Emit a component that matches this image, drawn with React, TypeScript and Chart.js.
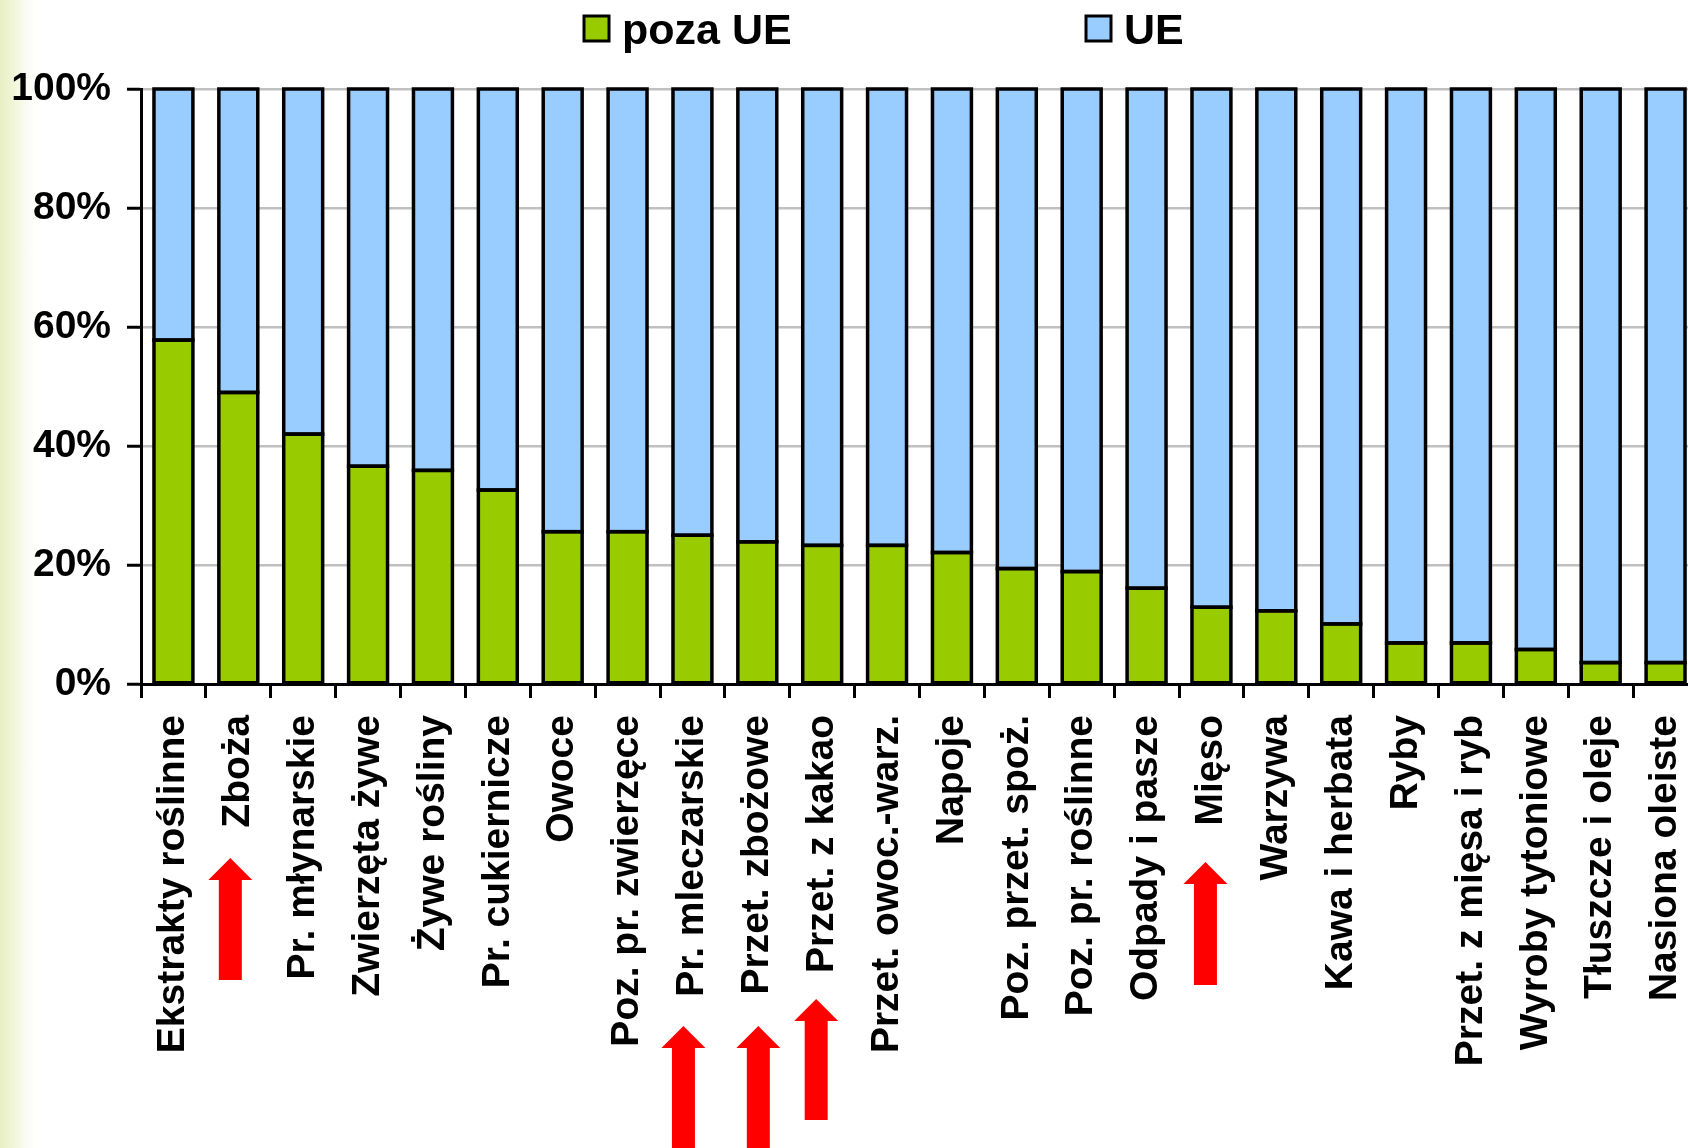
import { useEffect, useRef } from 'react';
import { Chart, registerables } from 'chart.js';

Chart.register(...registerables);

// Product groups, in the order the bars are drawn
const categories = [
  'Ekstrakty roślinne',
  'Zboża',
  'Pr. młynarskie',
  'Zwierzęta żywe',
  'Żywe rośliny',
  'Pr. cukiernicze',
  'Owoce',
  'Poz. pr. zwierzęce',
  'Pr. mleczarskie',
  'Przet. zbożowe',
  'Przet. z kakao',
  'Przet. owoc.-warz.',
  'Napoje',
  'Poz. przet. spoż.',
  'Poz. pr. roślinne',
  'Odpady i pasze',
  'Mięso',
  'Warzywa',
  'Kawa i herbata',
  'Ryby',
  'Przet. z mięsa i ryb',
  'Wyroby tytoniowe',
  'Tłuszcze i oleje',
  'Nasiona oleiste',
];

// Share of exports going outside the EU (%)
const pozaUE = [
  57.8, 49.0, 42.0, 36.6, 35.9, 32.6, 25.6, 25.6, 25.0, 23.9, 23.3, 23.3,
  22.1, 19.4, 18.9, 16.1, 12.9, 12.3, 10.1, 6.9, 6.9, 5.8, 3.6, 3.6,
];

// Share of exports going to the EU (%)
const UE = [
  42.2, 51.0, 58.0, 63.4, 64.1, 67.4, 74.4, 74.4, 75.0, 76.1, 76.7, 76.7,
  77.9, 80.6, 81.1, 83.9, 87.1, 87.7, 89.9, 93.1, 93.1, 94.2, 96.4, 96.4,
];

const yTickValues = [0, 20, 40, 60, 80, 100];

// Groups marked with a red arrow below their label
const arrowGroups = ['Zboża', 'Pr. mleczarskie', 'Przet. zbożowe', 'Przet. z kakao', 'Mięso'];

const FONT = '"Liberation Sans", Arial, Helvetica, sans-serif';
const GREEN = '#99CC00';
const BLUE = '#99CCFF';
const OUTLINE = 3.5;

// Arrow placement: horizontal nudge from the category centre, tip and tail heights
const arrowLayout: Record<string, { dx: number; tip: number; tail: number }> = {
  'Zboża': { dx: -8, tip: 858, tail: 980 },
  'Pr. mleczarskie': { dx: -9, tip: 1026, tail: 1160 },
  'Przet. zbożowe': { dx: 1, tip: 1026, tail: 1160 },
  'Przet. z kakao': { dx: -6, tip: 999, tail: 1120 },
  'Mięso': { dx: -6, tip: 862, tail: 985 },
};

// Black outline stroked along every bar segment edge (shared edges stay single)
const outlinePlugin = {
  id: 'barOutlines',
  afterDatasetsDraw(chart: any) {
    const { ctx } = chart;
    ctx.save();
    ctx.strokeStyle = '#000';
    ctx.lineWidth = OUTLINE;
    ctx.lineJoin = 'miter';
    chart.data.datasets.forEach((_: any, di: number) => {
      const meta = chart.getDatasetMeta(di);
      meta.data.forEach((bar: any) => {
        const { x, y, base, width } = bar.getProps(['x', 'y', 'base', 'width'], true);
        ctx.strokeRect(x - width / 2, Math.min(y, base), width, Math.abs(base - y));
      });
    });
    ctx.restore();
  },
};

const arrowPlugin = {
  id: 'redArrows',
  afterDraw(chart: any) {
    const { ctx } = chart;
    const xScale = chart.scales.x;
    ctx.save();
    ctx.fillStyle = '#FF0000';
    arrowGroups.forEach((name) => {
      const idx = categories.indexOf(name);
      const cfg = arrowLayout[name];
      const cx = xScale.getPixelForValue(idx) + cfg.dx;
      const headW = 22;
      const headH = 22;
      const shaftW = 11.5;
      ctx.beginPath();
      ctx.moveTo(cx, cfg.tip);
      ctx.lineTo(cx + headW, cfg.tip + headH);
      ctx.lineTo(cx + shaftW, cfg.tip + headH);
      ctx.lineTo(cx + shaftW, cfg.tail);
      ctx.lineTo(cx - shaftW, cfg.tail);
      ctx.lineTo(cx - shaftW, cfg.tip + headH);
      ctx.lineTo(cx - headW, cfg.tip + headH);
      ctx.closePath();
      ctx.fill();
    });
    ctx.restore();
  },
};

// Legend drawn across the top, items spread wide apart
const legendPlugin = {
  id: 'wideLegend',
  afterDraw(chart: any) {
    const { ctx } = chart;
    const slots = [
      { box: 584, text: 622 },
      { box: 1086, text: 1124 },
    ];
    ctx.save();
    ctx.font = `bold 43px ${FONT}`;
    ctx.textBaseline = 'alphabetic';
    ctx.textAlign = 'left';
    chart.data.datasets.forEach((ds: any, i: number) => {
      const s = slots[i];
      ctx.fillStyle = ds.backgroundColor;
      ctx.fillRect(s.box, 16, 25, 25);
      ctx.lineWidth = 3;
      ctx.strokeStyle = '#000';
      ctx.strokeRect(s.box, 16, 25, 25);
      ctx.fillStyle = '#000';
      ctx.fillText(ds.label, s.text, 44);
    });
    ctx.restore();
  },
};

export default function App() {
  const canvasRef = useRef<HTMLCanvasElement | null>(null);

  useEffect(() => {
    if (!canvasRef.current) return;
    const chart = new Chart(canvasRef.current, {
      type: 'bar',
      data: {
        labels: categories,
        datasets: [
          {
            label: 'poza UE',
            data: pozaUE,
            backgroundColor: GREEN,
            borderWidth: 0,
            categoryPercentage: 1,
            barPercentage: 0.6,
          },
          {
            label: 'UE',
            data: UE,
            backgroundColor: BLUE,
            borderWidth: 0,
            categoryPercentage: 1,
            barPercentage: 0.6,
          },
        ],
      },
      options: {
        animation: false,
        responsive: false,
        devicePixelRatio: 1,
        layout: { padding: { top: 89, left: 12, right: 2, bottom: 0 } },
        plugins: {
          legend: { display: false },
          tooltip: { enabled: false },
        },
        scales: {
          x: {
            stacked: true,
            offset: true,
            afterFit: (scale: any) => {
              scale.height = 1148 - 684;
              scale.paddingRight = 0;
              scale.paddingLeft = 0;
            },
            grid: {
              offset: true,
              drawOnChartArea: false,
              drawTicks: true,
              tickLength: 14,
              tickColor: '#000',
              tickWidth: 3,
            },
            border: { display: true, color: '#000', width: 3 },
            ticks: {
              autoSkip: false,
              maxRotation: 90,
              minRotation: 90,
              padding: 17,
              color: '#000',
              font: { family: FONT, size: 39, weight: 'bold' },
            },
          },
          y: {
            stacked: true,
            min: 0,
            max: 100,
            afterFit: (scale: any) => {
              scale.width = 129;
            },
            afterBuildTicks: (scale: any) => {
              scale.ticks = yTickValues.map((v) => ({ value: v }));
            },
            grid: {
              color: '#c0c0c0',
              lineWidth: 2.5,
              drawTicks: true,
              tickLength: 14,
              tickColor: '#000',
              tickWidth: 3,
            },
            border: { display: true, color: '#000', width: 3 },
            ticks: {
              padding: 16,
              color: '#000',
              font: { family: FONT, size: 39, weight: 'bold' },
              callback: (v: any) => `${v}%`,
            },
          },
        },
      },
      plugins: [outlinePlugin, arrowPlugin, legendPlugin],
    });
    return () => chart.destroy();
  }, []);

  return (
    <div
      style={{
        position: 'fixed',
        left: 0,
        top: 0,
        width: 1688,
        height: 1148,
        overflow: 'hidden',
        background:
          'linear-gradient(to right, #e8efc4 0px, #f1f6da 14px, #fafcf2 26px, #ffffff 36px)',
      }}
    >
      <canvas
        ref={canvasRef}
        width={1700}
        height={1148}
        style={{ display: 'block', width: 1700, height: 1148 }}
      />
    </div>
  );
}
